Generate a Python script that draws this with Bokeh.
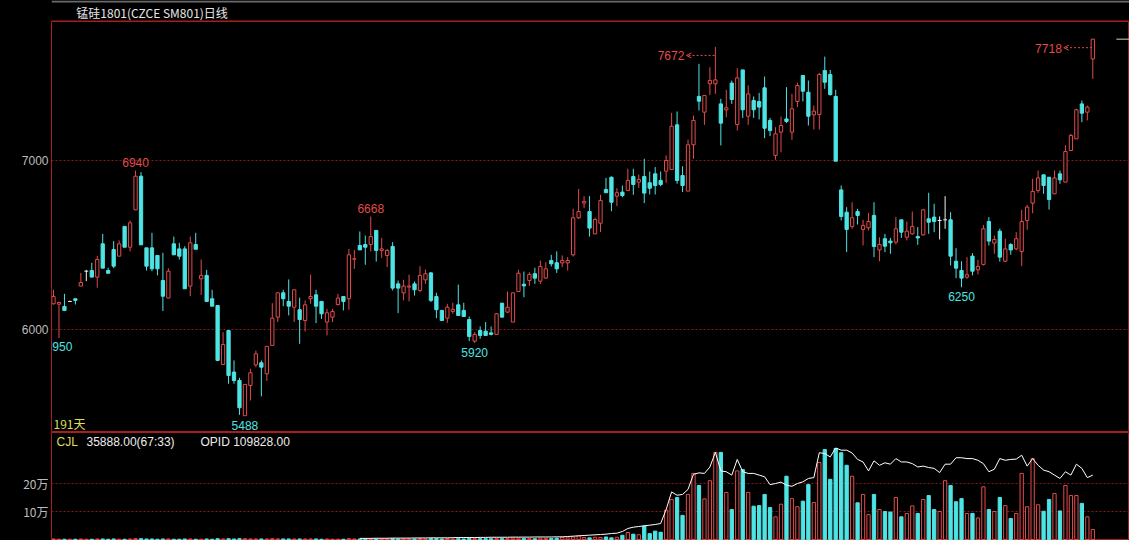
import numpy as np
from bokeh.plotting import figure
from bokeh.models import ColumnDataSource, Range1d, FixedTicker, Label, Arrow, OpenHead
from bokeh.layouts import column
from bokeh.embed import file_html
from bokeh.resources import INLINE
from bokeh.core.properties import value

# ---------------- data ----------------
title_text = "锰硅1801(CZCE SM801)日线"
days_text = "191天"

opens = [6152,6150,6136,6166,6182,6257,6345,6349,6310,6507,
         6349,6473,6434,6610,6487,6708,6907,6483,6483,6438,
         6290,6186,6507,6477,6477,6257,6503,6300,6320,6182,
         6142,5793,5994,5748,5698,5490,5669,5791,5803,5738,
         5906,6073,6217,6166,6132,6117,6053,6182,6205,6166,
         6044,6073,6148,6195,6182,6416,6497,6503,6503,6586,
         6468,6438,6491,6270,6217,6251,6270,6231,6294,6335,
         6195,6113,6067,6107,6146,6113,6059,5931,5994,5990,
         5980,5971,6156,6103,6044,6225,6268,6290,6330,6286,
         6304,6408,6395,6394,6394,6442,6661,6748,6698,6566,
         6629,6828,6901,6789,6813,6823,6905,6872,6905,6868,
         6921,6882,6937,6947,7211,6911,6819,7093,7379,7286,
         7454,7454,7335,7300,7458,7213,7536,7262,7355,7349,
         7430,7237,7030,7168,7246,7168,7349,7503,7404,7270,
         7272,7532,7509,7379,6826,6694,6610,6698,6592,6602,
         6675,6471,6537,6523,6517,6649,6546,6566,6550,6560,
         6655,6665,6645,6649,6649,6404,6349,6310,6434,6353,
         6385,6639,6511,6582,6404,6503,6477,6462,6645,6748,
         6823,6915,6901,6803,6921,6872,7059,7128,7335,7286,
         7601]
highs = [6235,6165,6211,6170,6182,6335,6353,6395,6436,6566,
         6365,6523,6527,6610,6645,6940,6931,6483,6572,6438,
         6454,6363,6550,6513,6493,6550,6572,6414,6353,6235,
         6142,5984,5994,5817,5714,5675,5768,5876,5817,5900,
         6156,6217,6235,6296,6235,6188,6172,6324,6235,6166,
         6122,6122,6211,6195,6477,6471,6580,6556,6668,6586,
         6542,6477,6517,6290,6294,6324,6284,6375,6355,6339,
         6217,6113,6152,6158,6266,6158,6077,5984,6018,6044,
         6018,6097,6156,6225,6217,6353,6343,6339,6365,6408,
         6398,6442,6462,6438,6428,6714,6832,6789,6789,6661,
         6797,6897,6905,6836,6852,6951,6951,6917,7010,6935,
         6961,6935,7030,7282,7290,6966,7124,7266,7572,7385,
         7552,7672,7365,7418,7473,7546,7536,7444,7379,7400,
         7497,7252,7197,7260,7434,7394,7460,7503,7473,7325,
         7519,7615,7536,7418,6852,6724,6753,6714,6649,6690,
         6753,6546,6566,6542,6665,6649,6639,6698,6606,6714,
         6809,6744,6669,6789,6694,6481,6404,6428,6452,6412,
         6619,6665,6556,6596,6537,6511,6576,6708,6738,6892,
         6941,6917,6901,6941,6941,7089,7158,7306,7355,7325,
         7718]
lows = [6148,5950,6109,6163,6148,6257,6286,6310,6247,6363,
        6333,6363,6434,6487,6462,6708,6501,6349,6345,6320,
        6109,6186,6442,6414,6241,6197,6475,6205,6166,6138,
        5813,5793,5679,5679,5495,5488,5580,5777,5604,5695,
        5906,6044,6138,6083,6044,5915,5988,6152,6038,6063,
        5965,6044,6142,6113,6117,6359,6471,6383,6462,6402,
        6424,6369,6231,6097,6172,6166,6201,6221,6270,6162,
        6067,6053,6040,6093,6083,6077,5931,5920,5945,5965,
        5965,5971,6073,6097,6044,6225,6191,6257,6270,6270,
        6300,6373,6335,6369,6349,6432,6655,6718,6550,6566,
        6576,6809,6700,6730,6783,6823,6797,6838,6748,6799,
        6799,6848,6868,6947,6862,6813,6819,7010,7296,7211,
        7388,7394,7089,7256,7335,7177,7252,7211,7252,7243,
        7132,7144,7004,7049,7221,7122,7316,7349,7207,7183,
        7183,7424,7384,6996,6645,6458,6596,6621,6497,6586,
        6428,6404,6458,6448,6503,6542,6527,6562,6501,6556,
        6566,6576,6533,6596,6379,6304,6250,6300,6320,6326,
        6379,6497,6448,6402,6398,6442,6468,6375,6590,6688,
        6809,6803,6710,6803,6862,6872,7059,7128,7227,7237,
        7483]
closes = [6195,6160,6113,6166,6172,6278,6345,6310,6414,6363,
          6333,6375,6507,6487,6631,6907,6501,6375,6359,6359,
          6197,6345,6442,6434,6241,6513,6475,6320,6166,6138,
          5817,5911,5728,5698,5537,5675,5744,5856,5777,5900,
          6067,6217,6182,6138,6235,6059,6146,6195,6138,6093,
          6099,6107,6186,6166,6442,6418,6471,6487,6550,6468,
          6477,6468,6245,6245,6257,6257,6235,6320,6330,6172,
          6117,6053,6132,6119,6083,6077,5959,5971,5965,5965,
          5971,6093,6073,6132,6217,6333,6258,6326,6304,6373,
          6359,6389,6359,6408,6408,6661,6698,6757,6600,6651,
          6763,6809,6753,6809,6793,6882,6858,6888,6807,6836,
          6852,6858,7000,7203,6882,6852,7093,7237,7351,7385,
          7473,7477,7221,7312,7361,7489,7300,7394,7300,7316,
          7191,7177,7158,7207,7231,7306,7444,7410,7262,7292,
          7509,7463,7390,6996,6669,6592,6661,6675,6615,6639,
          6491,6503,6493,6513,6596,6576,6582,6610,6542,6708,
          6635,6639,6645,6649,6434,6363,6304,6324,6345,6373,
          6596,6523,6533,6428,6477,6471,6537,6639,6724,6817,
          6897,6852,6769,6897,6886,7053,7148,7300,7280,7316,
          7718]
# volume, in 万手
volumes = [0.2,0.1,0.1,0.1,0.1,0.2,0.1,0.1,0.2,0.2,
           0.1,0.2,0.1,0.1,0.2,0.3,0.3,0.2,0.2,0.1,
           0.2,0.2,0.1,0.1,0.2,0.2,0.1,0.1,0.2,0.1,
           0.3,0.2,0.3,0.2,0.3,0.3,0.2,0.2,0.2,0.2,
           0.3,0.2,0.2,0.2,0.2,0.2,0.2,0.2,0.2,0.1,
           0.2,0.1,0.1,0.1,0.3,0.2,0.2,0.2,0.3,0.2,
           0.2,0.2,0.3,0.2,0.2,0.2,0.2,0.3,0.2,0.3,
           0.3,0.2,0.3,0.2,0.3,0.2,0.4,0.3,0.3,0.3,
           0.3,0.4,0.3,0.3,0.5,0.5,0.4,0.4,0.3,0.5,
           0.4,0.4,0.5,0.8,0.6,0.9,1.3,0.7,0.6,0.8,
           0.7,0.9,0.6,0.8,1.5,2.5,1.9,1.7,4.8,2.1,
           3.0,2.6,10.5,14.3,15.0,8.6,16.1,23.6,19.3,14.5,
           21.0,31.1,31.1,16.8,10.7,24.5,25.0,16.8,11.9,12.1,
           16.1,11.4,8.1,12.6,22.6,14.6,11.7,13.7,19.6,13.2,
           27.5,32.1,21.5,32.5,31.0,26.5,22.6,13.1,16.1,8.9,
           16.1,10.7,10.0,9.8,15.0,8.1,9.3,12.0,9.3,14.3,
           15.7,10.7,10.0,21.0,19.3,13.5,14.6,9.3,9.3,7.7,
           18.8,10.7,10.0,15.0,12.1,7.5,9.3,23.6,11.7,28.9,
           12.4,10.1,14.3,16.4,10.2,19.3,15.7,15.7,12.9,8.1,
           3.5888]
# open-interest line as drawn on the volume pane (万)
open_interest = [None] * 56 + [
    0.4,0.4,0.4,0.45,0.45,0.45,0.5,0.5,0.5,0.5,
    0.55,0.55,0.55,0.6,0.6,0.6,0.6,0.65,0.7,0.7,
    0.7,0.7,0.75,0.75,0.8,0.8,0.8,0.8,0.85,0.85,
    0.85,0.85,0.9,0.9,0.9,0.9,0.95,
    0.95,1.07,1.19,1.31,1.43,1.55,1.67,
    1.79,1.9,2.14,2.26,2.86,3.93,4.4,4.64,4.88,5.12,
    5.36,5.71,10.7,17.0,15.8,16.1,17.9,23.3,23.8,23.6,
    25.9,31.1,24.5,24.2,23.0,28.6,24.2,23.6,23.6,23.0,
    22.4,19.6,20.0,20.5,19.4,19.0,20.0,20.6,21.8,22.1,
    31.0,30.7,29.5,32.7,31.9,31.9,30.9,28.6,27.7,24.5,
    28.1,26.5,27.4,26.9,28.9,27.7,27.7,27.1,25.9,26.2,
    25.7,25.4,23.9,26.9,26.9,29.2,29.2,28.9,28.9,28.3,
    27.1,24.2,25.1,28.9,28.3,28.6,28.7,30.1,26.2,28.9,
    26.5,24.8,24.2,23.0,21.8,24.2,23.0,26.9,25.4,22.1,
    23.0]

price_ticks = [6000, 7000]
vol_ticks = [10, 20]
vol_tick_labels = {10: "10万", 20: "20万"}
high_marks = [15, 58]
low_marks = [1, 35, 77, 166]
arrow_marks = [121, 190]
vol_ratio = "67:33"
last_opid = 109828.00

# ---------------- styling ----------------
RED = "#e24b4b"
CYAN = "#4ee4e4"
WHITE = "#f2f2f2"
FRAME = "#a81e1e"
GRID = "#861818"
AXIS_TXT = "#bdbdbd"
YELLOW = "#dede5a"
NUMFONT = "Liberation Sans"
CJKFONT = "Noto Sans CJK SC"

W = 1129
LEFT = 51
TOP = 21                # title strip height
PX = 5.47               # px per candle
PPX = 1000.0 / 169.0    # price per px
FRAME_H = 411           # price pane frame height (y 21..432)
VH = 108                # volume pane height (y 432..540)
VPX = 2.8               # px per 万

x_start = -2.0 / PX
xr = Range1d(x_start, x_start + (W - LEFT) / PX)
y_hi = 7000 + 139 * PPX
y_lo = y_hi - FRAME_H * PPX
v_lo = -1.0 / VPX
v_hi = v_lo + VH / VPX

o = np.array(opens, float)
h = np.array(highs, float)
l = np.array(lows, float)
c = np.array(closes, float)
v = np.array(volumes, float)
oi = np.array([np.nan if x is None else x for x in open_interest], float)
n = len(o)
idx = np.arange(n)

up = c > o
down = c < o
doji = c == o
col = np.where(up, RED, np.where(down, CYAN, WHITE))
fill = np.where(up, "black", col)


def style(fig):
    fig.background_fill_color = "black"
    fig.border_fill_color = "black"
    fig.outline_line_color = FRAME
    fig.outline_line_width = 1
    fig.xgrid.grid_line_color = None
    fig.ygrid.grid_line_color = GRID
    fig.ygrid.grid_line_dash = "2 2"
    ax = fig.yaxis[0]
    ax.axis_line_color = None
    ax.major_tick_line_color = None
    ax.minor_tick_line_color = None
    ax.major_tick_out = 0
    ax.major_tick_in = 0
    ax.major_label_standoff = 3
    ax.major_label_text_color = AXIS_TXT
    ax.major_label_text_font_size = "12px"


# ---------------- title strip ----------------
pt = figure(width=W, height=TOP, x_range=Range1d(0, W), y_range=Range1d(TOP, 0),
            output_backend="svg", toolbar_location=None, x_axis_location=None, y_axis_location=None,
            min_border_left=0, min_border_right=0, min_border_top=0, min_border_bottom=0)
pt.background_fill_color = "black"
pt.border_fill_color = "black"
pt.outline_line_color = None
pt.grid.grid_line_color = None
pt.quad(left=[0], right=[W], top=[0], bottom=[2], fill_color="#6a6a6a", line_color=None)
pt.segment(x0=[0], x1=[W], y0=[TOP - 0.5], y1=[TOP - 0.5], line_color=FRAME, line_width=1)
pt.text(x=[26], y=[11.5], text=[title_text], text_color="#e6e6e6", text_font=value(CJKFONT),
        text_font_size="12px", text_baseline="middle", text_align="left")

# ---------------- price pane ----------------
p = figure(width=W, height=FRAME_H, x_range=xr, y_range=Range1d(y_lo, y_hi),
           output_backend="svg", toolbar_location=None, x_axis_location=None,
           min_border_left=LEFT, min_border_right=0, min_border_top=0, min_border_bottom=0)
style(p)
p.yaxis.ticker = FixedTicker(ticks=price_ticks)
p.yaxis.major_label_text_font = NUMFONT

src = ColumnDataSource(dict(x=idx, h=h, l=l, col=col))
p.segment(x0="x", y0="l", x1="x", y1="h", line_color="col", line_width=1, source=src)
bsrc = ColumnDataSource(dict(x=idx[~doji], top=np.maximum(o, c)[~doji], bot=np.minimum(o, c)[~doji],
                             col=col[~doji], fill=fill[~doji]))
p.vbar(x="x", width=0.6, top="top", bottom="bot", fill_color="fill", line_color="col",
       line_width=1, source=bsrc)
p.segment(x0=idx[doji] - 0.35, x1=idx[doji] + 0.35, y0=c[doji], y1=c[doji],
          line_color=WHITE, line_width=1)

hi_src = ColumnDataSource(dict(x=high_marks, y=h[high_marks], t=[f"{int(x)}" for x in h[high_marks]]))
p.text(x="x", y="y", text="t", source=hi_src, text_color=RED, text_font=value(NUMFONT),
       text_font_size="12px", text_align="center", text_baseline="middle", y_offset=-8)
lo_src = ColumnDataSource(dict(x=low_marks, y=l[low_marks], t=[f"{int(x)}" for x in l[low_marks]]))
p.text(x="x", y="y", text="t", source=lo_src, text_color=CYAN, text_font=value(NUMFONT),
       text_font_size="12px", text_align="center", text_baseline="middle", y_offset=9)
ar_src = ColumnDataSource(dict(x=arrow_marks, y=h[arrow_marks], t=[f"{int(x)}" for x in h[arrow_marks]]))
p.text(x="x", y="y", text="t", source=ar_src, text_color=RED, text_font=value(NUMFONT),
       text_font_size="12px", text_align="right", text_baseline="middle", x_offset=-31, y_offset=9)
for i in arrow_marks:
    ya = h[i] - 8.5 * PPX
    p.add_layout(Arrow(end=OpenHead(size=5, line_color=RED, line_width=1),
                       x_start=i - 0.15, y_start=ya, x_end=i - 5.3, y_end=ya,
                       line_color=RED, line_width=1, line_dash="2 2"))

# last price marker at right edge
p.segment(x0=[xr.end - 2.4], x1=[xr.end], y0=[c[-1]], y1=[c[-1]], line_color="#d8d8a0", line_width=1)

p.add_layout(Label(x=2, y=9, x_units="screen", y_units="screen", text=days_text,
                   text_color=YELLOW, text_font=CJKFONT, text_font_size="12px",
                   text_baseline="middle"))

# ---------------- volume pane ----------------
pv = figure(width=W, height=VH, x_range=xr, y_range=Range1d(v_lo, v_hi),
            output_backend="svg", toolbar_location=None, x_axis_location=None,
            min_border_left=LEFT, min_border_right=0, min_border_top=0, min_border_bottom=0)
style(pv)
pv.yaxis.ticker = FixedTicker(ticks=vol_ticks)
pv.yaxis.major_label_overrides = vol_tick_labels
pv.yaxis.major_label_text_font = CJKFONT

vup = c >= o
vcol = np.where(vup, RED, CYAN)
vfill = np.where(vup, "black", CYAN)
vsrc = ColumnDataSource(dict(x=idx, top=v, col=vcol, fill=vfill))
pv.vbar(x="x", width=0.6, top="top", bottom=0, fill_color="fill", line_color="col",
        line_width=1, source=vsrc)
pv.line(idx, oi, line_color="white", line_width=1)

ly = VH - 9
pv.add_layout(Label(x=5, y=ly, x_units="screen", y_units="screen", text="CJL",
                    text_color=YELLOW, text_font=NUMFONT, text_font_size="12px", text_baseline="middle"))
pv.add_layout(Label(x=35, y=ly, x_units="screen", y_units="screen",
                    text=f"{v[-1] * 10000:.2f}({vol_ratio})",
                    text_color="#ececec", text_font=NUMFONT, text_font_size="12px", text_baseline="middle"))
pv.add_layout(Label(x=149, y=ly, x_units="screen", y_units="screen",
                    text=f"OPID {last_opid:.2f}",
                    text_color="#ececec", text_font=NUMFONT, text_font_size="12px", text_baseline="middle"))

layout = column(pt, p, pv, spacing=0, styles={"background-color": "black"})
open("out.html", "w").write(file_html(layout, INLINE))
